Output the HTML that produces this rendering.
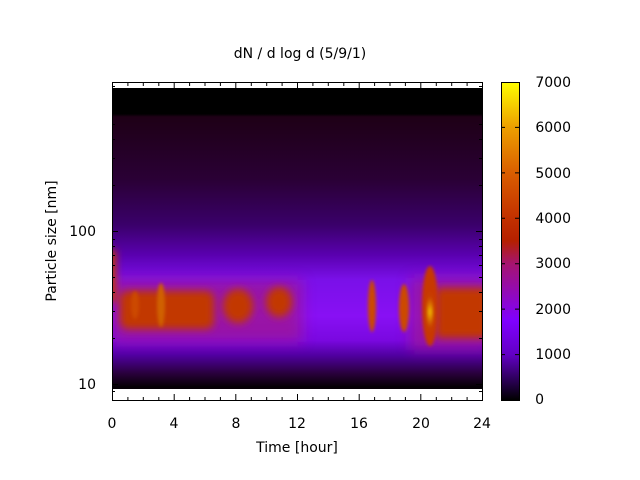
<!DOCTYPE html>
<html><head><meta charset="utf-8"><style>
html,body{margin:0;padding:0;background:#fff;}
svg{display:block;font-family:"DejaVu Sans","Liberation Sans",sans-serif;}
</style></head><body>
<svg width="640" height="480" viewBox="0 0 640 480" xmlns="http://www.w3.org/2000/svg">
<defs>
<linearGradient id="base" x1="0" y1="88" x2="0" y2="392" gradientUnits="userSpaceOnUse">
<stop offset="0" stop-color="#000"/>
<stop offset="0.085" stop-color="#000"/>
<stop offset="0.095" stop-color="#1e0016"/>
<stop offset="0.3" stop-color="#2a0035"/>
<stop offset="0.45" stop-color="#3a006a"/>
<stop offset="0.55" stop-color="#5a00b0"/>
<stop offset="0.63" stop-color="#7a10e8"/>
<stop offset="0.75" stop-color="#8810f4"/>
<stop offset="0.83" stop-color="#7a08e0"/>
<stop offset="0.88" stop-color="#5000a0"/>
<stop offset="0.94" stop-color="#28003a"/>
<stop offset="0.98" stop-color="#080008"/>
<stop offset="1" stop-color="#000"/>
</linearGradient>
<linearGradient id="cb" x1="0" y1="400" x2="0" y2="82" gradientUnits="userSpaceOnUse">
<stop offset="0" stop-color="#000"/>
<stop offset="0.143" stop-color="#6200c5"/>
<stop offset="0.25" stop-color="#8000ff"/>
<stop offset="0.43" stop-color="#a6146e"/>
<stop offset="0.5" stop-color="#b52000"/>
<stop offset="0.57" stop-color="#c23000"/>
<stop offset="0.71" stop-color="#d95c00"/>
<stop offset="0.86" stop-color="#eda000"/>
<stop offset="1" stop-color="#ffff00"/>
</linearGradient>
<radialGradient id="hot"><stop offset="0" stop-color="#ffe000"/><stop offset="0.35" stop-color="#e08000"/><stop offset="0.7" stop-color="#c84000"/><stop offset="1" stop-color="#c84000" stop-opacity="0"/></radialGradient>
<filter id="bl" x="-30%" y="-80%" width="160%" height="260%"><feGaussianBlur stdDeviation="4"/></filter>
<filter id="bl3" x="-30%" y="-80%" width="160%" height="260%"><feGaussianBlur stdDeviation="7"/></filter>
<filter id="bl2" x="-80%" y="-50%" width="260%" height="200%"><feGaussianBlur stdDeviation="1.5"/></filter>
<clipPath id="cp"><rect x="112" y="88" width="370" height="304"/></clipPath>
</defs>
<rect x="112" y="88" width="370" height="304" fill="url(#base)"/>
<g clip-path="url(#cp)">
<g filter="url(#bl3)" fill="#a01890" opacity="0.75">
<rect x="112" y="280" width="190" height="62"/>
<rect x="410" y="278" width="80" height="72"/>
</g>
<g filter="url(#bl)" fill="#c23800">
<rect x="120" y="291" width="94" height="38" rx="8"/>
<ellipse cx="238" cy="306" rx="15" ry="17"/>
<ellipse cx="279" cy="302" rx="13" ry="15"/>
<rect x="436" y="288" width="52" height="50" rx="4"/>
<rect x="104" y="250" width="12" height="52"/>
</g>
<g filter="url(#bl2)">
<ellipse cx="161" cy="305" rx="4" ry="22" fill="#d06000"/>
<ellipse cx="135" cy="305" rx="4" ry="14" fill="#cc4a00"/>
<ellipse cx="372" cy="306" rx="4" ry="26" fill="#cc4a00"/>
<ellipse cx="404" cy="308" rx="5" ry="24" fill="#cc4a00"/>
<ellipse cx="430" cy="306" rx="8" ry="40" fill="#c83800"/>
<ellipse cx="430" cy="312" rx="5" ry="22" fill="url(#hot)"/>
</g>
<rect x="112" y="386" width="370" height="6" fill="#050005"/>
<rect x="112" y="389" width="370" height="3" fill="#fff"/>
</g>
<rect x="112.5" y="82.5" width="370" height="318" fill="none" stroke="#000" stroke-width="1"/>
<g stroke="#000" stroke-width="1">
<path d="M112.5 400v-6M174.2 400v-6M235.8 400v-6M297.5 400v-6M359.2 400v-6M420.8 400v-6M482.5 400v-6M112.5 83v6M174.2 83v6M235.8 83v6M297.5 83v6M359.2 83v6M420.8 83v6M482.5 83v6"/>
<path d="M127.9 400v-3M143.3 400v-3M158.8 400v-3M189.6 400v-3M205 400v-3M220.4 400v-3M251.3 400v-3M266.7 400v-3M282.1 400v-3M312.9 400v-3M328.3 400v-3M343.8 400v-3M374.6 400v-3M390 400v-3M405.4 400v-3M436.3 400v-3M451.7 400v-3M467.1 400v-3"/>
<path d="M127.9 83v3M143.3 83v3M158.8 83v3M189.6 83v3M205 83v3M220.4 83v3M251.3 83v3M266.7 83v3M282.1 83v3M312.9 83v3M328.3 83v3M343.8 83v3M374.6 83v3M390 83v3M405.4 83v3M436.3 83v3M451.7 83v3M467.1 83v3"/>
<path d="M112 384.5h6M112 231.5h6M482 384.5h-6M482 231.5h-6"/>
<path d="M112 391.5h3M112 338.5h3M112 311.5h3M112 292.5h3M112 277.5h3M112 265.5h3M112 255.5h3M112 246.5h3M112 239.5h3M112 185.5h3M112 158.5h3M112 139.5h3M112 124.5h3M112 112.5h3M112 102.5h3M112 93.5h3M112 86.5h3"/>
<path d="M482 391.5h-3M482 338.5h-3M482 311.5h-3M482 292.5h-3M482 277.5h-3M482 265.5h-3M482 255.5h-3M482 246.5h-3M482 239.5h-3M482 185.5h-3M482 158.5h-3M482 139.5h-3M482 124.5h-3M482 112.5h-3M482 102.5h-3M482 93.5h-3M482 86.5h-3"/>
</g>
<rect x="501.5" y="82.5" width="18" height="318" fill="url(#cb)" stroke="#000" stroke-width="1"/>
<g stroke="#000"><path d="M501 354.6h4M519 354.6h-4M501 309.1h4M519 309.1h-4M501 263.7h4M519 263.7h-4M501 218.3h4M519 218.3h-4M501 172.9h4M519 172.9h-4M501 127.4h4M519 127.4h-4"/></g>
<g font-size="14" fill="#000">
<g text-anchor="middle">
<text x="112" y="428">0</text><text x="174" y="428">4</text><text x="236" y="428">8</text><text x="297" y="428">12</text><text x="359" y="428">16</text><text x="421" y="428">20</text><text x="482" y="428">24</text>
<text x="297" y="452">Time [hour]</text>
<text x="300" y="58">dN / d log d (5/9/1)</text>
</g>
<g text-anchor="end"><text x="96" y="389">10</text><text x="96" y="236">100</text></g>
<g text-anchor="end">
<text x="544" y="404">0</text><text x="571" y="359">1000</text><text x="571" y="314">2000</text><text x="571" y="268">3000</text><text x="571" y="223">4000</text><text x="571" y="178">5000</text><text x="571" y="132">6000</text><text x="571" y="87">7000</text>
</g>
<text transform="translate(56,241) rotate(-90)" text-anchor="middle">Particle size [nm]</text>
</g>
</svg>
</body></html>
